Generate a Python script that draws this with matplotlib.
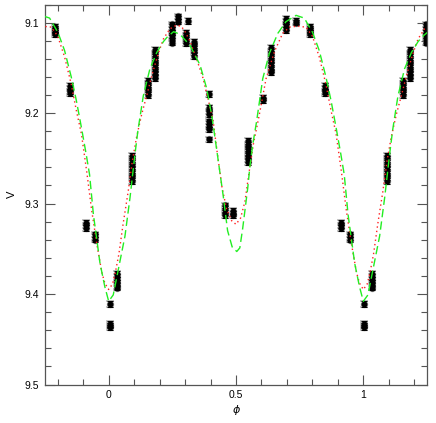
import numpy as np
import matplotlib
matplotlib.use("Agg")
import matplotlib.pyplot as plt
from matplotlib.ticker import MultipleLocator

plt.rcParams['font.family'] = ['Liberation Sans', 'DejaVu Sans']

# ---- observed data: (phase, list of V magnitudes) ----
cluster_phase = [0.790, 0.848, 0.911, 0.946, 0.004, 0.004, 0.033, 0.092, 0.155,
                 0.182, 0.247, 0.272, 0.311, 0.304, 0.335, 0.394, 0.455, 0.487,
                 0.546, 0.607, 0.636, 0.696, 0.734]
cluster_mags = [
    [9.105, 9.107, 9.109, 9.111, 9.113],
    [9.170, 9.173, 9.176, 9.178],
    [9.321, 9.324, 9.327],
    [9.334, 9.337, 9.340],
    [9.411],
    [9.433, 9.435, 9.437],
    [9.378, 9.381, 9.384, 9.388, 9.391, 9.393],
    [9.247, 9.251, 9.255, 9.259, 9.263, 9.267, 9.271, 9.275],
    [9.164, 9.168, 9.172, 9.176, 9.180],
    [9.130, 9.134, 9.138, 9.142, 9.146, 9.150, 9.154, 9.158, 9.161],
    [9.102, 9.105, 9.108, 9.111, 9.114, 9.117, 9.122],
    [9.093, 9.096, 9.099],
    [9.098],
    [9.111, 9.115, 9.119, 9.123],
    [9.121, 9.125, 9.129, 9.133, 9.137],
    [9.179, 9.194, 9.198, 9.201, 9.209, 9.212, 9.215, 9.218, 9.229],
    [9.302, 9.306, 9.310, 9.313],
    [9.308, 9.311, 9.313],
    [9.231, 9.235, 9.239, 9.243, 9.247, 9.251, 9.254],
    [9.183, 9.186],
    [9.128, 9.132, 9.136, 9.140, 9.144, 9.148, 9.152, 9.155],
    [9.096, 9.099, 9.102, 9.105, 9.108],
    [9.098, 9.100],
]
mag_err = 0.003

# ---- model curves ----
model1_phase = [0.000, 0.015, 0.025, 0.040, 0.057, 0.077, 0.093, 0.110, 0.130, 0.150,
                0.170, 0.195, 0.215, 0.240, 0.265, 0.285, 0.300, 0.320, 0.345, 0.370,
                0.390, 0.410, 0.425, 0.445, 0.463, 0.483, 0.500, 0.518, 0.535, 0.550,
                0.567, 0.590, 0.618, 0.651, 0.683, 0.710, 0.740, 0.775, 0.800, 0.827,
                0.853, 0.873, 0.893, 0.914, 0.933, 0.953, 0.973, 0.985, 1.000]
model1_mag = [9.395, 9.389, 9.378, 9.356, 9.322, 9.286, 9.253, 9.226, 9.201, 9.180,
              9.158, 9.134, 9.118, 9.107, 9.103, 9.104, 9.110, 9.121, 9.140, 9.161,
              9.184, 9.208, 9.241, 9.282, 9.306, 9.319, 9.323, 9.316, 9.298, 9.268,
              9.236, 9.204, 9.162, 9.132, 9.112, 9.105, 9.104, 9.105, 9.115, 9.138,
              9.168, 9.197, 9.223, 9.265, 9.307, 9.344, 9.376, 9.388, 9.395]

model2_phase = [0.000, 0.018, 0.038, 0.064, 0.084, 0.103, 0.115, 0.136, 0.162, 0.189,
                0.215, 0.230, 0.255, 0.280, 0.319, 0.359, 0.385, 0.405, 0.424, 0.450,
                0.467, 0.485, 0.503, 0.515, 0.526, 0.546, 0.555, 0.568, 0.581, 0.605,
                0.631, 0.664, 0.696, 0.736, 0.768, 0.801, 0.827, 0.853, 0.873, 0.893,
                0.912, 0.925, 0.940, 0.966, 0.985, 1.000]
model2_mag = [9.408, 9.401, 9.373, 9.336, 9.293, 9.246, 9.219, 9.181, 9.151, 9.133,
              9.121, 9.116, 9.110, 9.113, 9.125, 9.147, 9.173, 9.203, 9.240, 9.292,
              9.330, 9.348, 9.353, 9.349, 9.328, 9.283, 9.258, 9.231, 9.209, 9.162,
              9.134, 9.112, 9.099, 9.092, 9.095, 9.111, 9.131, 9.160, 9.186, 9.216,
              9.246, 9.268, 9.312, 9.366, 9.392, 9.408]

x_ticks = [0, 0.5, 1]
x_ticklabels = ['0', '0.5', '1']
y_ticks = [9.1, 9.2, 9.3, 9.4, 9.5]
y_ticklabels = ['9.1', '9.2', '9.3', '9.4', '9.5']


def extend(ph, mg):
    ph = np.asarray(ph, float)
    mg = np.asarray(mg, float)
    return np.concatenate([ph - 1, ph, ph + 1]), np.concatenate([mg, mg, mg])


obs_ph = np.concatenate([[p] * len(m) for p, m in zip(cluster_phase, cluster_mags)])
obs_mg = np.concatenate([np.asarray(m) for m in cluster_mags])
obs_ph, obs_mg = extend(obs_ph, obs_mg)
sel = (obs_ph >= -0.25) & (obs_ph <= 1.25)
obs_ph, obs_mg = obs_ph[sel], obs_mg[sel]

m1p, m1m = extend(model1_phase, model1_mag)
o = np.argsort(m1p); m1p, m1m = m1p[o], m1m[o]
m2p, m2m = extend(model2_phase, model2_mag)
o = np.argsort(m2p); m2p, m2m = m2p[o], m2m[o]

fig = plt.figure(figsize=(4.36, 4.23), dpi=100)
ax = fig.add_axes([45 / 436, 1 - 384.5 / 423, 382 / 436, 380 / 423])

# light grey halo under points, as in the reference
ax.errorbar(obs_ph, obs_mg, yerr=mag_err, fmt='o', color='#bbbbbb', ms=4.4,
            elinewidth=1.3, capsize=2.8, capthick=1.2, mec='#bbbbbb', zorder=1.5)
ax.errorbar(obs_ph, obs_mg, yerr=mag_err, fmt='o', color='black', ms=3.4,
            elinewidth=0.8, capsize=2.4, capthick=0.8, mec='black', zorder=2)
ax.plot(m1p, m1m, color='#ff2020', ls=(0, (1, 2.2)), lw=1.0, zorder=3)
ax.plot(m2p, m2m, color='#22ee22', ls=(0, (6, 3)), lw=1.0, zorder=3)

ax.set_xlim(-0.25, 1.25)
ax.set_ylim(9.5, 9.08)
ax.set_xticks(x_ticks)
ax.set_xticklabels(x_ticklabels)
ax.set_yticks(y_ticks)
ax.set_yticklabels(y_ticklabels)
ax.xaxis.set_minor_locator(MultipleLocator(0.1))
ax.yaxis.set_minor_locator(MultipleLocator(0.02))
ax.tick_params(which='both', direction='in', top=True, right=True,
               color='#555555', labelsize=7.5, width=0.8)
ax.tick_params(which='major', length=7, pad=4)
ax.tick_params(which='minor', length=4)
for s in ax.spines.values():
    s.set_color('#555555')
    s.set_linewidth(0.9)
ax.set_xlabel('$\\phi$', fontsize=8, labelpad=2)
ax.set_ylabel('V', fontsize=8, labelpad=6)

fig.savefig('out.png', dpi=100)
